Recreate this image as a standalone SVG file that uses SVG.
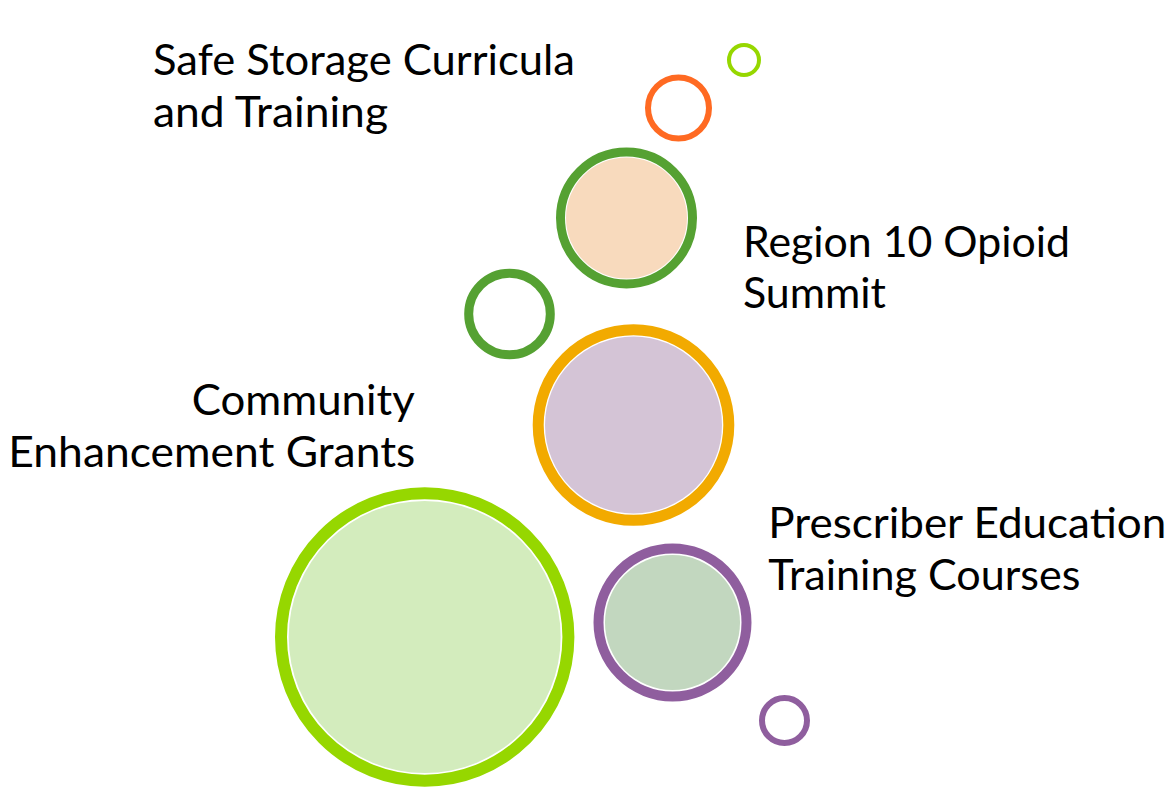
<svg xmlns="http://www.w3.org/2000/svg" width="1175" height="788" viewBox="0 0 1175 788">
<style>
.lbl{font-family:Lato,"Open Sans","Liberation Sans",sans-serif;font-size:43px;fill:#000}
.ring{fill:#fff}
</style>
<rect width="1175" height="788" fill="#fff"/>
<g id="connectors"/>
<g id="node-grants">
<circle class="ring" cx="424.7" cy="637" r="143.7" stroke="#96D700" stroke-width="12"/>
<circle cx="424.7" cy="637" r="136" fill="#D3ECBD"/>
</g>
<g id="node-prescriber">
<circle class="ring" cx="672.5" cy="622.5" r="74" stroke="#8F5E9E" stroke-width="10"/>
<circle cx="672.5" cy="622.5" r="67.5" fill="#C2D7BF"/>
</g>
<g id="node-purple-dot">
<circle cx="784.5" cy="720.5" r="22.5" fill="none" stroke="#8F5E9E" stroke-width="6"/>
</g>
<g id="node-amber">
<circle class="ring" cx="633.5" cy="425" r="95.3" stroke="#F2AA00" stroke-width="11"/>
<circle cx="633.5" cy="425" r="88.5" fill="#D4C4D6"/>
</g>
<g id="node-green-dot">
<circle cx="509.5" cy="314" r="40.8" fill="none" stroke="#55A132" stroke-width="9"/>
</g>
<g id="node-summit">
<circle class="ring" cx="626.5" cy="218" r="66" stroke="#55A132" stroke-width="9"/>
<circle cx="626.5" cy="218" r="60.5" fill="#F8DABD"/>
</g>
<g id="node-orange-dot">
<circle cx="678.5" cy="108" r="30.5" fill="none" stroke="#FF6A22" stroke-width="6"/>
</g>
<g id="node-lime-dot">
<circle cx="744" cy="60" r="15" fill="none" stroke="#96D700" stroke-width="4"/>
</g>
<g id="label-safe">
<text class="lbl" x="153" y="75" textLength="422" lengthAdjust="spacingAndGlyphs">Safe Storage Curricula</text>
<text class="lbl" x="153" y="127" textLength="235" lengthAdjust="spacingAndGlyphs">and Training</text>
</g>
<g id="label-summit">
<text class="lbl" x="743" y="257" textLength="327" lengthAdjust="spacingAndGlyphs">Region 10 Opioid</text>
<text class="lbl" x="743" y="308" textLength="143" lengthAdjust="spacingAndGlyphs">Summit</text>
</g>
<g id="label-grants">
<text class="lbl" x="191.7" y="415" textLength="223" lengthAdjust="spacingAndGlyphs">Community</text>
<text class="lbl" x="8.3" y="466.5" textLength="407" lengthAdjust="spacingAndGlyphs">Enhancement Grants</text>
</g>
<g id="label-prescriber">
<text class="lbl" x="768.3" y="538" textLength="398" lengthAdjust="spacingAndGlyphs">Prescriber Education</text>
<text class="lbl" x="768.3" y="590" textLength="312" lengthAdjust="spacingAndGlyphs">Training Courses</text>
</g>
</svg>
